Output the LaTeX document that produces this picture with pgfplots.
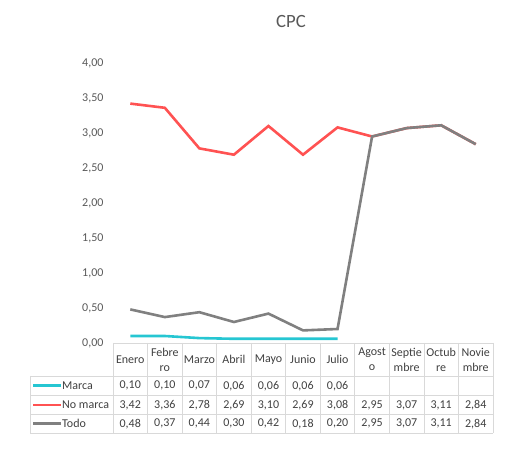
\documentclass[border=0pt]{standalone}
\usepackage{pgfplots}
\usepackage{pgfplotstable}
\pgfplotsset{compat=1.18}
\usepackage{fontspec}
\setmainfont{Carlito}

\definecolor{marca}{RGB}{38,198,210}
\definecolor{nomarca}{RGB}{255,82,82}
\definecolor{todo}{RGB}{128,128,128}
\definecolor{rejilla}{RGB}{217,217,217}
\definecolor{texto}{RGB}{89,89,89}
\definecolor{tabla}{RGB}{64,64,64}

\pgfplotstableread{
x marca nomarca todo
0 0.10 3.42 0.48
1 0.10 3.36 0.37
2 0.07 2.78 0.44
3 0.06 2.69 0.30
4 0.06 3.10 0.42
5 0.06 2.69 0.18
6 0.06 3.08 0.20
7 nan 2.95 2.95
8 nan 3.07 3.07
9 nan 3.11 3.11
10 nan 2.84 2.84
}\datos

\newcommand{\fuente}{\fontsize{12bp}{15bp}\selectfont}
\pgfkeys{/pgf/number format/.cd, fixed, fixed zerofill, precision=2, use comma, assume math mode=true}

\begin{document}
\begin{tikzpicture}
\useasboundingbox (0,0) rectangle (531bp,466bp);

\node[text=texto, font=\fontsize{18.7bp}{22bp}\selectfont] at (291bp,444bp) {CPC};

\begin{axis}[
    at={(113bp,123bp)}, anchor=south west,
    scale only axis,
    width=380bp, height=280bp,
    xmin=-0.5, xmax=10.5,
    ymin=0, ymax=4,
    clip=false,
    axis line style={draw=none},
    xtick=\empty,
    ytick={0,0.5,...,4},
    major tick length=0pt,
    yticklabel style={font=\fuente, text=texto, xshift=-6bp},
    /pgf/number format/.cd, fixed, fixed zerofill, precision=2, use comma, assume math mode=true,
]
\addplot[marca, line width=2.6bp] table[x=x, y=marca] {\datos};
\addplot[nomarca, line width=2.6bp] table[x=x, y=nomarca] {\datos};
\addplot[todo, line width=2.6bp] table[x=x, y=todo] {\datos};
\end{axis}

% tabla de datos
\begin{scope}[rejilla, line width=0.8bp]
\draw (113bp,123bp) -- (493bp,123bp);
\foreach \yy in {90,70.5,51.5,33} \draw (30bp,\yy bp) -- (493bp,\yy bp);
\draw (30bp,90bp) -- (30bp,33bp);
\foreach \k in {0,...,11} {
  \pgfmathsetmacro\xx{113+34.545*\k}
  \draw (\xx bp,123bp) -- (\xx bp,33bp);
}
\end{scope}

\foreach \mes [count=\i from 0] in {Enero,Febre\\ro,Marzo,Abril,Mayo,Junio,Julio,Agost\\o,Septie\\mbre,Octub\\re,Novie\\mbre} {
  \pgfmathsetmacro\cx{113+34.545*(\i+0.5)}
  \node[text=tabla, font=\fuente, align=center, inner sep=0pt] at (\cx bp,106.5bp) {\mes};
}

\foreach \i in {0,...,10} {
  \pgfmathsetmacro\cx{113+34.545*(\i+0.5)}
  \pgfplotstablegetelem{\i}{nomarca}\of\datos
  \node[text=tabla, font=\fuente, inner sep=0pt] at (\cx bp,61bp) {\pgfmathprintnumber{\pgfplotsretval}};
  \pgfplotstablegetelem{\i}{todo}\of\datos
  \node[text=tabla, font=\fuente, inner sep=0pt] at (\cx bp,42.25bp) {\pgfmathprintnumber{\pgfplotsretval}};
}
\foreach \i in {0,...,6} {
  \pgfmathsetmacro\cx{113+34.545*(\i+0.5)}
  \pgfplotstablegetelem{\i}{marca}\of\datos
  \node[text=tabla, font=\fuente, inner sep=0pt] at (\cx bp,80.25bp) {\pgfmathprintnumber{\pgfplotsretval}};
}

% claves de la leyenda
\foreach \col/\nom/\yy in {marca/Marca/80.25, nomarca/No marca/61, todo/Todo/42.25} {
  \draw[\col, line width=2.6bp] (33bp,\yy bp) -- (61bp,\yy bp);
  \node[text=tabla, font=\fuente, anchor=west, inner sep=0pt] at (62bp,\yy bp) {\nom};
}
\end{tikzpicture}
\end{document}
